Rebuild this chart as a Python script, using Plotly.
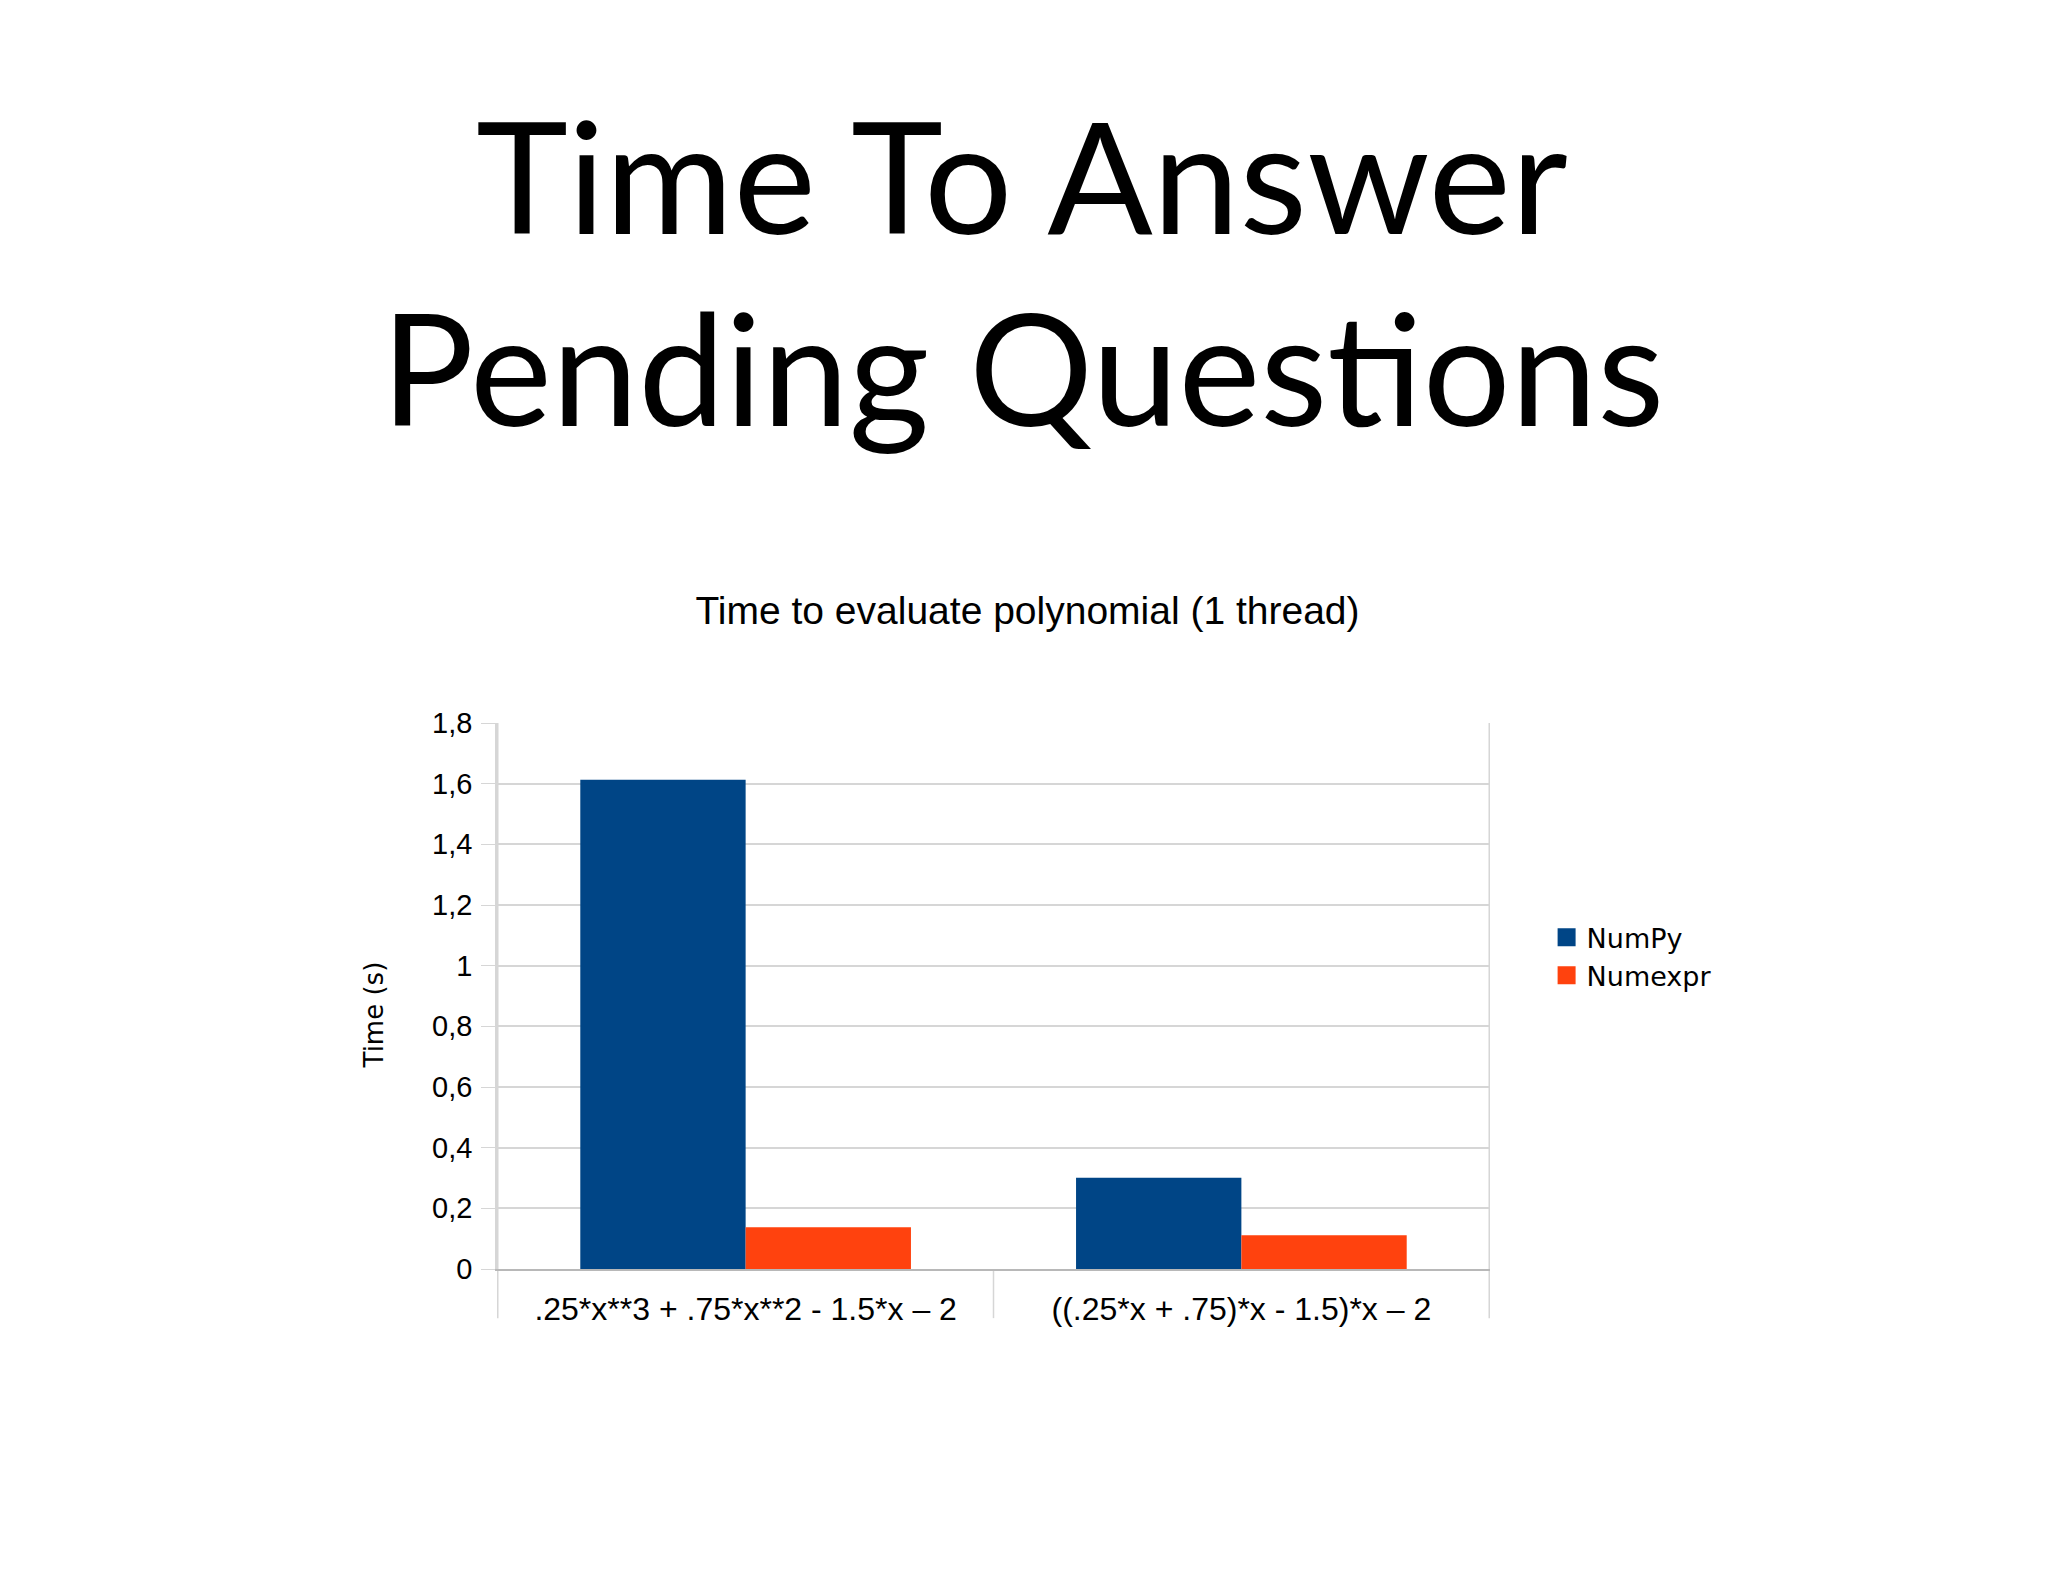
import plotly.graph_objects as go

# Data
categories = [".25*x**3 + .75*x**2 - 1.5*x – 2", "((.25*x + .75)*x - 1.5)*x – 2"]
series_names = ["NumPy", "Numexpr"]
numpy_times = [1.613, 0.301]
numexpr_times = [0.138, 0.111]
y_ticks = [0, 0.2, 0.4, 0.6, 0.8, 1.0, 1.2, 1.4, 1.6, 1.8]
y_tick_text = ["0", "0,2", "0,4", "0,6", "0,8", "1", "1,2", "1,4", "1,6", "1,8"]

colors = ["#004586", "#ff420e"]
chart_font = "Liberation Sans, Arial, sans-serif"
wide_font = "DejaVu Sans, sans-serif"
grid_col = "#d6d6d6"

fig = go.Figure()
for name, vals, col in zip(series_names, [numpy_times, numexpr_times], colors):
    fig.add_trace(go.Bar(x=categories, y=vals, name=name, showlegend=False,
                         marker=dict(color=col, line=dict(width=0))))
    # legend entry with a bigger square swatch than the default bar symbol
    fig.add_trace(go.Scatter(x=[None], y=[None], mode="markers", name=name,
                             marker=dict(symbol="square", size=16, color=col,
                                         line=dict(color=col, width=2))))

# category separators that run below the axis, like the original chart
for i in range(len(categories) + 1):
    edge = i in (0, len(categories))
    fig.add_shape(type="line", xref="x", yref="paper",
                  x0=i - 0.5, x1=i - 0.5, y0=-0.09, y1=1 if edge else 0,
                  line=dict(color=grid_col, width=1.5), layer="below")

# slide heading
fig.add_annotation(text="Time To Answer", xref="paper", yref="paper",
                   x=0.529, y=2.007, xanchor="center", yanchor="middle",
                   showarrow=False, font=dict(family="Lato, sans-serif", size=156, color="black"))
fig.add_annotation(text="Pending Questions", xref="paper", yref="paper",
                   x=0.529, y=1.654, xanchor="center", yanchor="middle",
                   showarrow=False, font=dict(family="Lato, sans-serif", size=155, color="black"))

# y axis title, sits a little below the middle in the original
fig.add_annotation(text="Time (s)", xref="paper", yref="paper", x=-0.124, y=0.466,
                   xanchor="center", yanchor="middle", textangle=-90, showarrow=False,
                   font=dict(family=wide_font, size=26, color="black"))

fig.update_layout(
    width=2048, height=1582,
    margin=dict(l=489, r=566, t=715, b=321),
    paper_bgcolor="white", plot_bgcolor="white",
    font=dict(family=chart_font, color="black", size=30),
    title=dict(text="Time to evaluate polynomial (1 thread)", x=0.4978, xref="container",
               y=1 - 602 / 1582, yref="container", yanchor="middle", xanchor="center",
               font=dict(size=39, family=chart_font)),
    barmode="group", bargap=0.333, bargroupgap=0,
    showlegend=True,
    legend=dict(x=1.057, y=0.572, xanchor="left", yanchor="middle",
                font=dict(size=27, family=wide_font), itemwidth=30, tracegroupgap=0),
    xaxis=dict(showgrid=False, showline=True, linecolor="#b8b8b8", linewidth=1.5,
               ticks="", tickfont=dict(size=32), ticklabelstandoff=11),
    yaxis=dict(range=[0, 1.8], tickvals=y_ticks, ticktext=y_tick_text,
               showgrid=True, gridcolor=grid_col, gridwidth=1.5,
               showline=True, linecolor=grid_col, linewidth=1.5,
               ticks="outside", ticklen=14, tickcolor=grid_col, ticklabelstandoff=3,
               tickfont=dict(size=29), zeroline=False),
)

fig.write_html("out.html")
